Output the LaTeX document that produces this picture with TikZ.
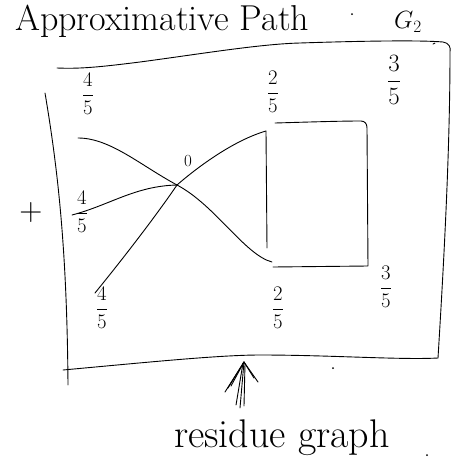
\documentclass[tikz,border=0pt]{standalone}
\usepackage{amsmath}
\usetikzlibrary{arrows.meta}
\begin{document}
\begin{tikzpicture}[x=1pt,y=-1pt, line cap=round, line join=round,
  pen/.style={line width=0.9pt, black},
  lab/.style={inner sep=0pt, font=\fontsize{20}{22}\selectfont},
  biglab/.style={inner sep=0pt, font=\fontsize{25}{27}\selectfont},
  spot/.style={fill=black, inner sep=0pt, minimum size=2pt, circle}]
\clip (0,0) rectangle (461,472);
% title
\node[anchor=base west, inner sep=0pt, font=\fontsize{36}{38}\selectfont] (title) at (15,30) {Approximative Path};
\node[spot] (d1) at (352,14) {};
\node[inner sep=0pt, font=\fontsize{26}{28}\selectfont] (g2) at (408,22) {$G_2$};
% frame
\coordinate (ftl) at (57,68);
\coordinate (ftr) at (450,52);
\coordinate (fbr) at (438,358);
\coordinate (fbl) at (63,370);
\draw[pen] (ftl) .. controls (80,69) and (100,67) .. (140,62) .. controls (200,54) and (260,44) .. (300,43) .. controls (360,41) and (420,40) .. (443,42) .. controls (449,43) and (451,47) .. (ftr) .. controls (450,150) and (444,260) .. (fbr);
\draw[pen] (fbl) .. controls (150,362) and (220,355) .. (260,355) .. controls (330,355) and (400,360) .. (fbr);
\draw[pen] (45,93) .. controls (58,170) and (67,250) .. (68,385);
\draw[pen] (433,44) -- (435,43);
% labels
\node[lab] (fa) at (88,94) {$\dfrac{4}{5}$};
\node[lab] (fb) at (273,92) {$\dfrac{2}{5}$};
\node[biglab] (fc) at (394,80) {$\dfrac{3}{5}$};
\node[lab] (fd) at (82,212) {$\dfrac{4}{5}$};
\node[lab] (fe) at (102,308) {$\dfrac{4}{5}$};
\node[lab] (ff) at (278,308) {$\dfrac{2}{5}$};
\node[lab] (fg) at (386,287) {$\dfrac{3}{5}$};
\node[inner sep=0pt, font=\fontsize{17}{19}\selectfont] (zero) at (188,161) {0};
\node[inner sep=0pt, font=\fontsize{32}{34}\selectfont] (plus) at (31,213) {+};
% crossing and curves
\coordinate (X) at (177,185);
\coordinate (ha) at (78,138);
\coordinate (hb) at (72,215);
\coordinate (hc) at (95,293);
\coordinate (btl) at (266,131);
\coordinate (bbl) at (272,262);
\draw[pen] (ha) .. controls (110,138) and (140,165) .. (X) .. controls (215,205) and (245,255) .. (bbl);
\draw[pen] (hb) .. controls (110,205) and (135,186) .. (X);
\draw[pen] (hc) .. controls (130,250) and (160,210) .. (X) .. controls (200,165) and (235,140) .. (btl);
% box
\coordinate (b1) at (267,248);
\coordinate (b2) at (275,123);
\coordinate (b3) at (368,266);
\coordinate (b4) at (273,267);
\draw[pen] (b1) -- (btl);
\draw[pen] (b2) .. controls (310,122) and (340,121) .. (361,121) .. controls (365,121) and (367,124) .. (367,128) -- (b3) -- (b4);
% residue graph
\node[inner sep=0pt, font=\fontsize{40}{42}\selectfont] (res) at (282,438) {residue graph};
\node[spot] (d2) at (333,368) {};
\node[spot] (d3) at (427,455) {};
\coordinate (tip) at (244,362);
\coordinate (base) at (240,408);
\draw[pen] (base) -- (tip);
\draw[pen] (236,405) -- (243,363);
\draw[pen] (244,406) -- (245,364);
\draw[pen] (225,392) -- (tip) -- (258,382);
\draw[pen] (228,388) -- (tip);
\draw[pen] (231,386) -- (tip) -- (254,378);
\end{tikzpicture}
\end{document}
